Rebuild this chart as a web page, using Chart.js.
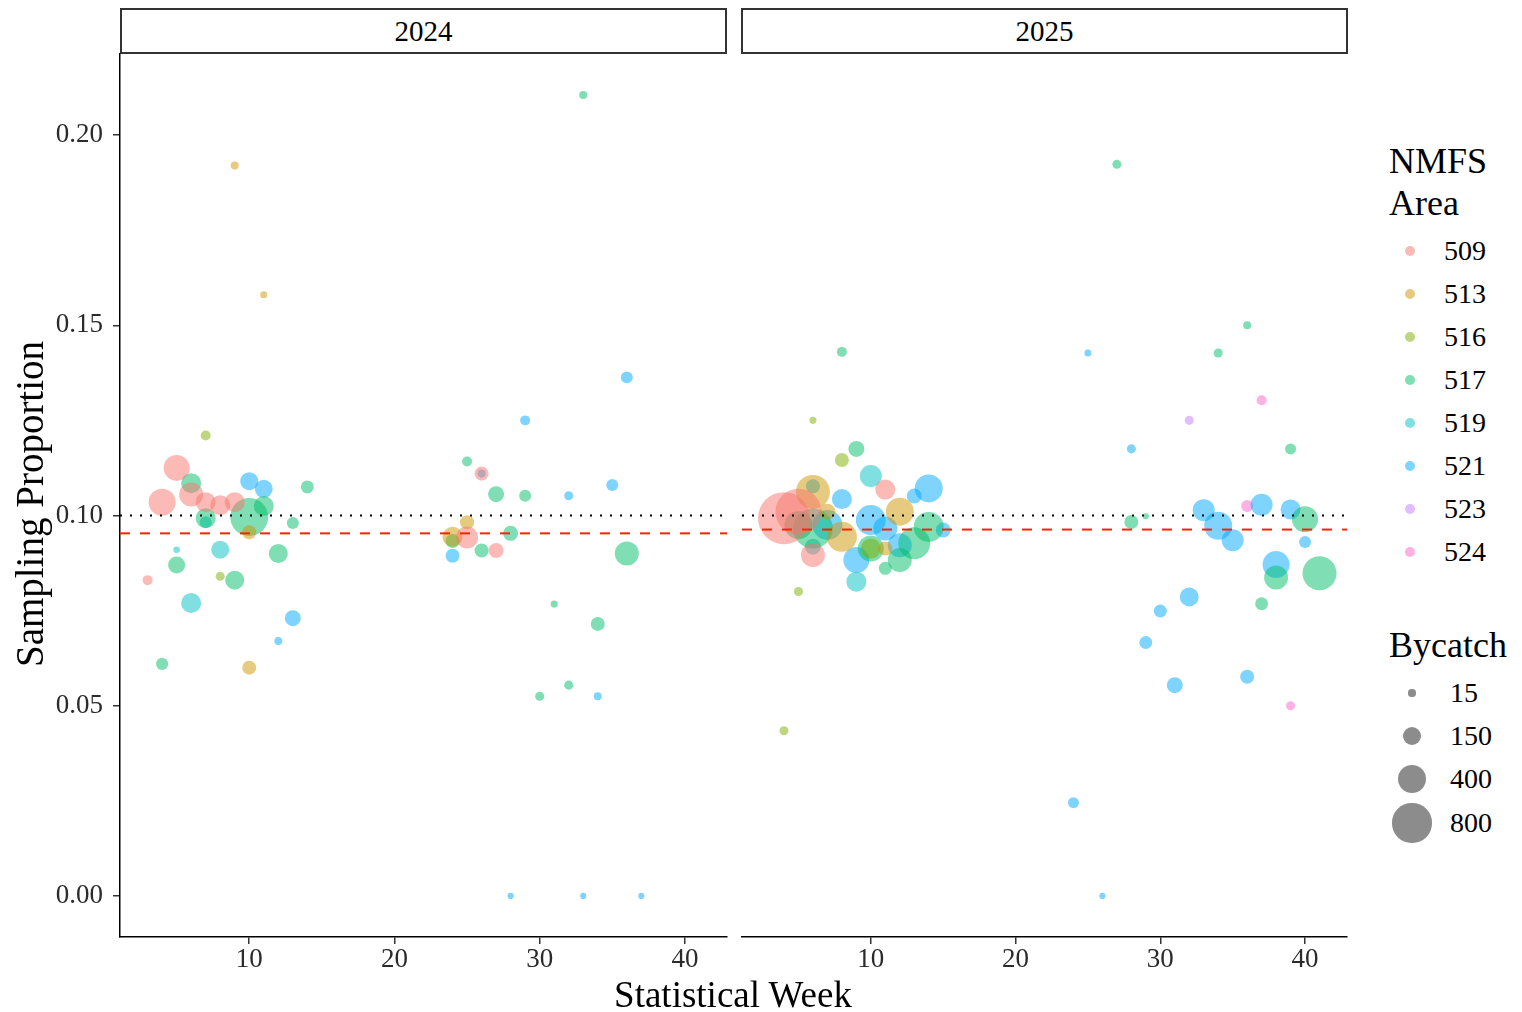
<!DOCTYPE html>
<html>
<head>
<meta charset="utf-8">
<script src="https://cdn.jsdelivr.net/npm/chart.js@4.4.1/dist/chart.umd.min.js"></script>
<style>
    body { margin: 0; background: #fff; font-family: "Liberation Serif", serif; color: #000; }
    #root { position: relative; width: 1522px; height: 1012px; overflow: hidden; font-family: "Liberation Serif", serif; }
    .abs { position: absolute; }
    .strip { position: absolute; top: 8px; height: 42px; border: 2px solid #333; font-family: "Liberation Serif", serif; font-size: 29px; line-height: 42px; text-align: center; }
    .lgTitle { position: absolute; left: 1389px; font-size: 36px; line-height: 42px; white-space: nowrap; }
    .lgRow { position: absolute; height: 40px; }
    .lgDot { position: absolute; border-radius: 50%; }
    .lgLab { position: absolute; font-size: 28px; line-height: 40px; top: 0; white-space: nowrap; }
</style>
</head>
<body>
<div id="root">
    <div class="strip" style="left:120px;width:603px;">2024</div>
    <div class="strip" style="left:741px;width:603px;">2025</div>
    <canvas id="c2024" class="abs" style="left:0;top:24px;" width="752" height="961"></canvas>
    <canvas id="c2025" class="abs" style="left:716px;top:24px;" width="657" height="961"></canvas>
    <div class="abs" style="left:413px;top:974px;width:640px;text-align:center;font-size:37px;line-height:42px;">Statistical Week</div>
    <div class="abs" style="left:-290px;top:483px;width:640px;text-align:center;font-size:39px;line-height:42px;transform:rotate(-90deg);">Sampling Proportion</div>
    <div id="legend"></div>
</div>
<script>
//---------
//Константы
//---------

//Районы NMFS и их цвета
const AREAS = ["509", "513", "516", "517", "519", "521", "523", "524"];
const AREA_COLORS = ["#F8766D", "#CD9600", "#7CAE00", "#00BE67", "#00BFC4", "#00A9FF", "#C77CFF", "#FF61CC"];

//Легенда размера (прилов)
const SIZE_BREAKS = [15, 150, 400, 800];

//Метки осей
const X_TICKS = [10, 20, 30, 40];
const Y_TICKS = [0, 0.05, 0.1, 0.15, 0.2];
const X_MIN = 1.1;
const X_MAX = 42.9;
const Y_MIN = -0.0108;
const Y_MAX = 0.2213;

//Целевая доля и средние по годам
const TARGET = 0.1;
const MEAN_2024 = 0.0953;
const MEAN_2025 = 0.0963;

//2024
const WEEK_2024 = [9, 11, 7, 3, 4, 10, 12, 13, 6, 5, 5, 8, 9, 8, 12, 13, 14, 4, 5, 6, 6, 7, 8, 9, 7, 7, 10, 10, 10, 11, 11,
    36, 29, 25, 26, 26, 27, 29, 32, 35, 25, 24, 25, 24, 24, 26, 27, 28, 36, 33, 31, 34, 30, 32, 34, 28, 33, 37];
const PROP_2024 = [0.192, 0.158, 0.121, 0.083, 0.061, 0.06, 0.067, 0.073, 0.077, 0.087, 0.091, 0.084, 0.083, 0.091, 0.09,
    0.098, 0.1075, 0.1035, 0.1125, 0.1085, 0.1055, 0.1035, 0.1027, 0.1035, 0.0993, 0.0982, 0.0996, 0.0956, 0.109, 0.107,
    0.1025, 0.1363, 0.125, 0.1142, 0.111, 0.111, 0.1056, 0.1052, 0.1052, 0.108, 0.0982, 0.0944, 0.0942, 0.0933, 0.0894,
    0.0908, 0.0908, 0.0953, 0.09, 0.2105, 0.0767, 0.0715, 0.0525, 0.0554, 0.0525, 0, 0, 0];
const AREA_2024 = ["513", "513", "516", "509", "517", "513", "521", "521", "519", "517", "519", "516", "517", "519", "517",
    "517", "517", "509", "509", "517", "509", "509", "509", "509", "517", "519", "517", "513", "521", "521", "517",
    "521", "521", "517", "509", "521", "517", "517", "521", "521", "513", "513", "509", "517", "521", "517", "509",
    "517", "517", "517", "517", "517", "517", "517", "521", "521", "521", "521"];
const BYCATCH_2024 = [21, 15, 37, 37, 60, 84, 21, 114, 189, 131, 12, 29, 168, 149, 168, 58, 70, 364, 336, 189, 282, 189, 189,
    189, 189, 58, 755, 84, 149, 149, 189, 58, 37, 37, 84, 21, 114, 58, 29, 58, 84, 189, 233, 84, 84, 84, 98, 98, 282,
    21, 15, 84, 29, 29, 21, 10, 10, 10];

//2025
const WEEK_2025 = [27, 25, 8, 6, 36, 34, 37, 32, 28, 39, 5, 4, 24, 26, 36, 37, 33, 39, 40, 28, 29, 34, 35, 40, 38, 38, 41,
    32, 37, 30, 29, 31, 36, 39, 9, 8, 10, 11, 14, 13, 6, 6, 8, 12, 4, 5, 6, 5, 7, 7, 8, 6, 6, 10, 11, 10, 10, 11, 9,
    9, 12, 12, 13, 14, 15, 11];
const PROP_2025 = [0.1923, 0.1427, 0.143, 0.125, 0.15, 0.1427, 0.1303, 0.125, 0.1175, 0.1175, 0.08, 0.0434, 0.0245, 0,
    0.1025, 0.1028, 0.1014, 0.1016, 0.099, 0.0983, 0.0998, 0.0973, 0.0935, 0.093, 0.0871, 0.0837, 0.0848, 0.0786,
    0.0768, 0.0749, 0.0666, 0.0554, 0.0576, 0.05, 0.1175, 0.1146, 0.1104, 0.1068, 0.1071, 0.1051, 0.1062, 0.1077,
    0.1043, 0.101, 0.0993, 0.101, 0.0966, 0.0975, 0.0975, 0.101, 0.0944, 0.0918, 0.0896, 0.0988, 0.0966, 0.0913,
    0.0913, 0.0913, 0.0883, 0.0826, 0.0922, 0.0883, 0.0927, 0.097, 0.0962, 0.0861];
const AREA_2025 = ["517", "521", "517", "516", "517", "517", "524", "523", "521", "517", "516", "516", "521", "521",
    "524", "521", "521", "521", "517", "517", "517", "521", "521", "521", "521", "517", "517", "521", "517", "521",
    "521", "521", "521", "524", "517", "516", "519", "509", "521", "521", "513", "521", "521", "513", "509", "509",
    "517", "517", "521", "513", "513", "519", "509", "521", "521", "517", "516", "513", "521", "519", "521", "517",
    "517", "517", "521", "517"];
const BYCATCH_2025 = [29, 15, 37, 15, 21, 29, 37, 29, 29, 47, 29, 29, 47, 10, 58, 233, 233, 189, 336, 84, 10, 394, 233, 58,
    364, 282, 597, 168, 70, 70, 70, 114, 84, 29, 114, 84, 233, 189, 394, 98, 597, 84, 189, 394, 1457, 1128, 841, 394,
    457, 114, 457, 114, 282, 457, 282, 336, 189, 84, 336, 189, 282, 282, 524, 457, 98, 70];

//Шрифты
const FONT_TICK = { family: "Liberation Serif", size: 27 };

//-----------
//Тело модуля
//-----------

//Радиус точки по величине прилова
const sizeToRadius = v => 1 + 0.655 * Math.sqrt(v);

//Наборы данных пузырьков по районам
const buildBubbles = (weeks, props, areas, bycatch) =>
    AREAS.map((area, i) => ({
        type: "bubble",
        label: area,
        order: 2,
        backgroundColor: AREA_COLORS[i] + "80",
        borderWidth: 0,
        data: weeks
            .map((w, j) => ({ x: w, y: props[j], r: sizeToRadius(bycatch[j]), a: areas[j] }))
            .filter(p => p.a === area)
    })).filter(ds => ds.data.length > 0);

//Горизонтальная линия
const buildHLine = (y, color, dash, order) => ({
    type: "line",
    order,
    data: [
        { x: X_MIN, y },
        { x: X_MAX, y }
    ],
    borderColor: color,
    borderWidth: 2,
    borderDash: dash,
    pointRadius: 0,
    fill: false
});

//Панель одного года
const makePanel = (canvasId, weeks, props, areas, bycatch, mean, showY) => {
    const ctx = document.getElementById(canvasId).getContext("2d");
    return new Chart(ctx, {
        type: "bubble",
        data: {
            datasets: [
                ...buildBubbles(weeks, props, areas, bycatch),
                buildHLine(TARGET, "#000", [2, 8], 1),
                buildHLine(mean, "#FF2200", [10, 10], 0)
            ]
        },
        options: {
            responsive: false,
            animation: false,
            events: [],
            layout: { padding: { top: 30, right: 25, left: showY ? 0 : 11, bottom: 0 } },
            plugins: { legend: { display: false }, tooltip: { enabled: false } },
            scales: {
                x: {
                    type: "linear",
                    min: X_MIN,
                    max: X_MAX,
                    afterBuildTicks: s => (s.ticks = X_TICKS.map(v => ({ value: v }))),
                    afterFit: s => (s.height = 48),
                    border: { display: true, color: "#000", width: 1.5 },
                    grid: { drawOnChartArea: false, drawTicks: true, tickLength: 7, color: "#333", lineWidth: 1.5 },
                    ticks: { font: FONT_TICK, color: "#2b2b2b", padding: 0, maxRotation: 0 }
                },
                y: {
                    type: "linear",
                    display: showY,
                    min: Y_MIN,
                    max: Y_MAX,
                    afterBuildTicks: s => (s.ticks = Y_TICKS.map(v => ({ value: v }))),
                    afterFit: s => (s.width = showY ? 120 : 0),
                    border: { display: true, color: "#000", width: 1.5 },
                    grid: { drawOnChartArea: false, drawTicks: true, tickLength: 7, color: "#333", lineWidth: 1.5 },
                    ticks: { font: FONT_TICK, color: "#2b2b2b", padding: 10, callback: v => v.toFixed(2) }
                }
            }
        }
    });
};

//Легенда
const buildLegend = () => {
    const root = document.getElementById("legend");
    let html = "";
    html += '<div class="lgTitle" style="top:140px;">NMFS</div>';
    html += '<div class="lgTitle" style="top:182px;">Area</div>';
    AREAS.forEach((a, i) => {
        const cy = 251 + 43 * i;
        html +=
            `<div class="lgRow" style="left:1390px;top:${cy - 20}px;width:130px;">` +
            `<div class="lgDot" style="left:15px;top:15px;width:10px;height:10px;background:${AREA_COLORS[i]}80;"></div>` +
            `<div class="lgLab" style="left:54px;">${a}</div></div>`;
    });
    html += '<div class="lgTitle" style="top:624px;">Bycatch</div>';
    const sizeY = [693, 736, 779, 823];
    SIZE_BREAKS.forEach((v, i) => {
        const r = sizeToRadius(v);
        html +=
            `<div class="lgRow" style="left:1390px;top:${sizeY[i] - 20}px;width:130px;">` +
            `<div class="lgDot" style="left:${22 - r}px;top:${20 - r}px;width:${2 * r}px;height:${2 * r}px;background:rgba(0,0,0,0.45);"></div>` +
            `<div class="lgLab" style="left:60px;">${v}</div></div>`;
    });
    root.innerHTML = html;
};

makePanel("c2024", WEEK_2024, PROP_2024, AREA_2024, BYCATCH_2024, MEAN_2024, true);
makePanel("c2025", WEEK_2025, PROP_2025, AREA_2025, BYCATCH_2025, MEAN_2025, false);
buildLegend();
</script>
</body>
</html>
